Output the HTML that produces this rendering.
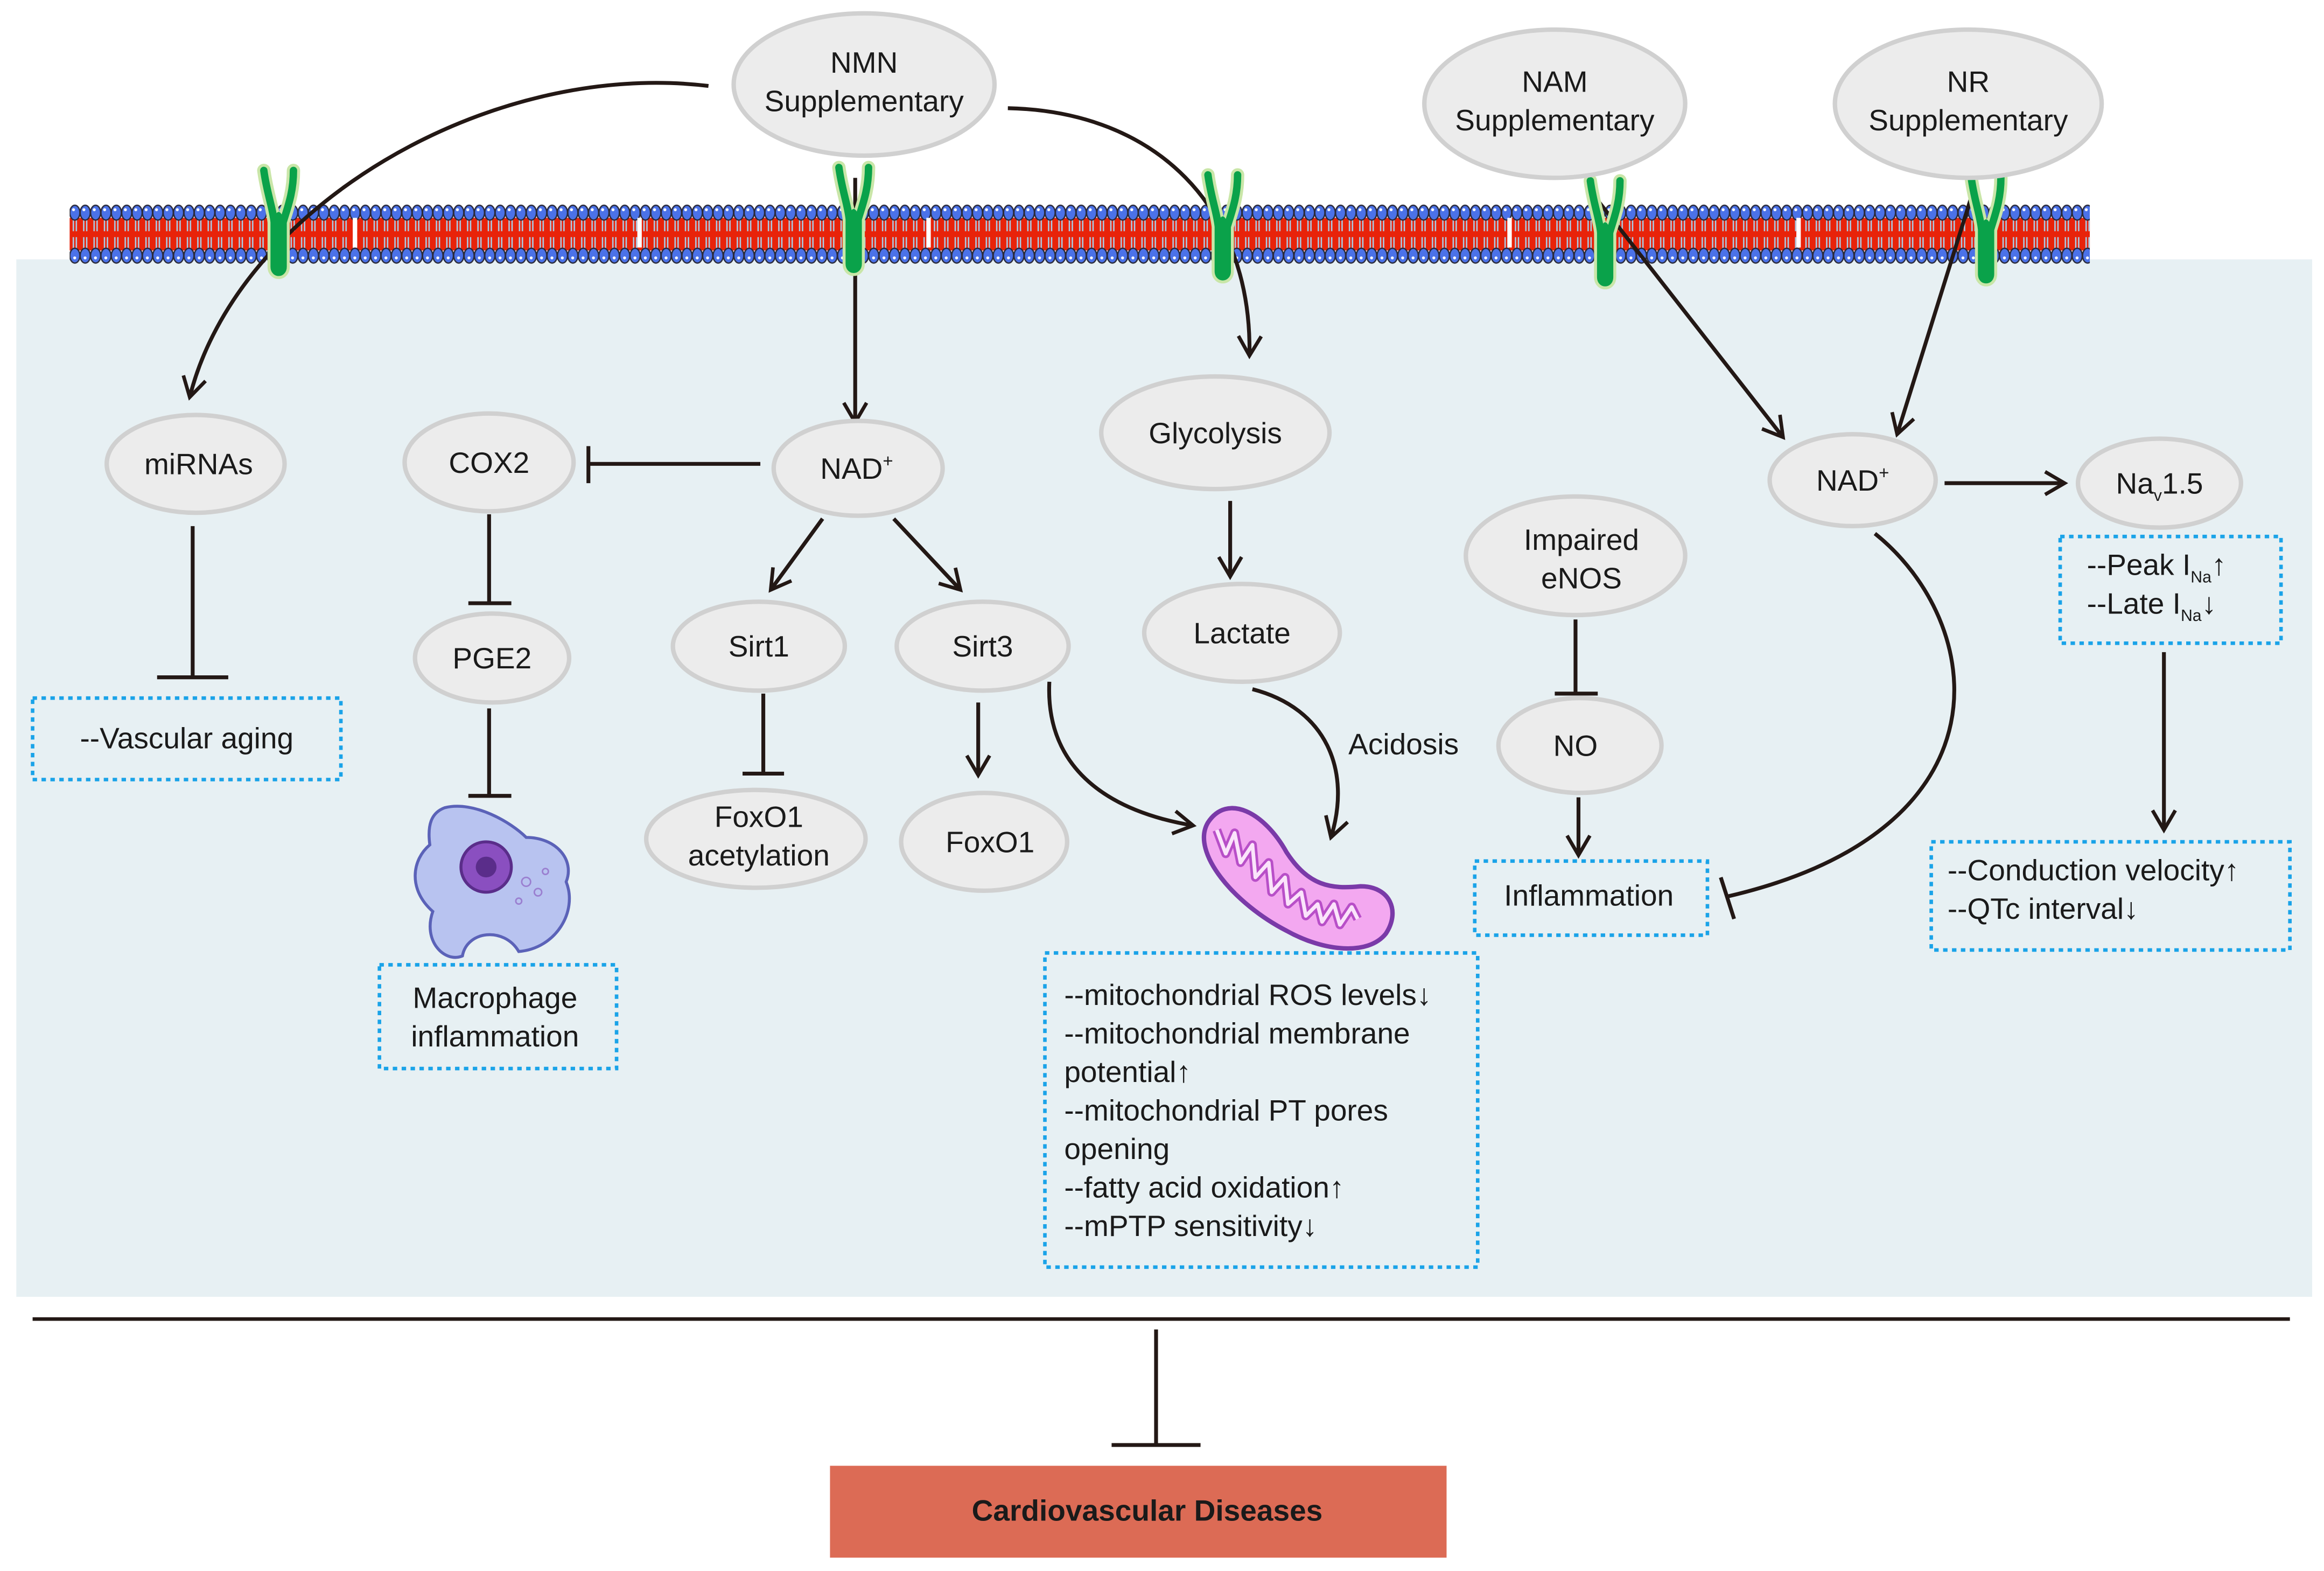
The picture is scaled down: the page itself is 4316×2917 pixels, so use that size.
<!DOCTYPE html>
<html><head><meta charset="utf-8"><style>
html,body{margin:0;padding:0;background:#fff}
svg{display:block}
text{font-family:"Liberation Sans",Arial,sans-serif;fill:#1a1a1a}
</style></head><body>
<svg width="4316" height="2917" viewBox="0 0 1568 1060" preserveAspectRatio="none" xmlns="http://www.w3.org/2000/svg">
<defs>
<marker id="ar" viewBox="0 0 20 20" refX="17" refY="10" markerWidth="22" markerHeight="22" markerUnits="userSpaceOnUse" orient="auto">
<polyline points="5,3 17,10 5,17" fill="none" stroke="#231815" stroke-width="2.2"/>
</marker>
<pattern id="lip" x="47" y="138" width="7" height="40" patternUnits="userSpaceOnUse">
<rect x="0" y="9" width="7" height="22" fill="#e8230a"/>
<path d="M2.5 10v8M4.5 10v8M2.5 22v8M4.5 22v8" stroke="#a8d2ee" stroke-width="0.9"/>
<ellipse cx="3.5" cy="5.5" rx="3.4" ry="5" fill="#4b72e8" stroke="#2a2a3a" stroke-width="0.9"/>
<ellipse cx="3.5" cy="34.5" rx="3.4" ry="5" fill="#4b72e8" stroke="#2a2a3a" stroke-width="0.9"/>
<circle cx="2.6" cy="3.5" r="1" fill="#fff"/>
<circle cx="3.4" cy="36" r="1" fill="#fff"/>
</pattern>
<g id="rec">
<path d="M-10,-40 C-8,-25 -4,-15 -3,-5 L-3,25 C-3,30 3,30 3,25 L3,-5 C6,-15 10,-25 10,-40" fill="none" stroke="#c9e6a8" stroke-width="9" stroke-linecap="round"/>
<path d="M-10,-40 C-8,-25 -4,-15 -3,-5 L-3,25 C-3,30 3,30 3,25 L3,-5 C6,-15 10,-25 10,-40" fill="none" stroke="#0aa24a" stroke-width="5" stroke-linecap="round"/>
<ellipse cx="0" cy="8" rx="5" ry="20" fill="#0aa24a"/>
</g>
</defs>
<rect x="11" y="175" width="1549" height="700" fill="#e7f0f3"/>
<rect x="47" y="138" width="1363" height="40" fill="url(#lip)"/>
<g fill="#fff"><rect x="238" y="147" width="3" height="20"/><rect x="430" y="147" width="3" height="20"/><rect x="625" y="147" width="3" height="20"/><rect x="1017" y="147" width="3" height="20"/><rect x="1212" y="147" width="3" height="20"/></g>

<!-- connectors -->
<g fill="none" stroke="#231815" stroke-width="2.6">
<path d="M478,58 C330,40 160,140 128,268" marker-end="url(#ar)"/>
<path d="M680,73 C780,75 845,140 843,240" marker-end="url(#ar)"/>
<path d="M577,120 L577,285" marker-end="url(#ar)"/>
<path d="M513,313 L397,313 M397,301 L397,326"/>
<path d="M555,350 L520,398" marker-end="url(#ar)"/>
<path d="M603,350 L648,398" marker-end="url(#ar)"/>
<path d="M330,347 L330,407 M316,407 L345,407"/>
<path d="M330,478 L330,537 M316,537 L345,537"/>
<path d="M130,355 L130,457 M106,457 L154,457"/>
<path d="M515,468 L515,522 M501,522 L529,522"/>
<path d="M660,474 L660,523" marker-end="url(#ar)"/>
<path d="M708,460 C705,520 750,548 805,557" marker-end="url(#ar)"/>
<path d="M830,338 L830,389" marker-end="url(#ar)"/>
<path d="M845,465 C895,478 912,520 898,565" marker-end="url(#ar)"/>
<path d="M1063,418 L1063,468 M1049,468 L1078,468"/>
<path d="M1065,538 L1065,577" marker-end="url(#ar)"/>
<path d="M1265,360 C1340,420 1360,560 1165,605 M1161,592 L1170,620"/>
<path d="M1070,125 L1203,295" marker-end="url(#ar)"/>
<path d="M1330,133 L1280,293" marker-end="url(#ar)"/>
<path d="M1312,326 L1393,326" marker-end="url(#ar)"/>
<path d="M1460,440 L1460,560" marker-end="url(#ar)"/>
<path d="M22,890 L1545,890" stroke-width="2.4"/>
<path d="M780,897 L780,975 M750,975 L810,975"/>
</g>

<!-- receptors -->
<use href="#rec" x="188" y="155"/>
<use href="#rec" x="576" y="153"/>
<use href="#rec" x="825" y="158"/>
<use href="#rec" x="1083" y="162"/>
<use href="#rec" x="1340" y="160"/>

<!-- nodes -->
<g fill="#ececec" stroke="#d0d0d0" stroke-width="3">
<ellipse cx="583" cy="57" rx="88" ry="48"/>
<ellipse cx="1049" cy="70" rx="88" ry="50"/>
<ellipse cx="1328" cy="70" rx="90" ry="50"/>
<ellipse cx="132" cy="313" rx="60" ry="33"/>
<ellipse cx="330" cy="312" rx="57" ry="33"/>
<ellipse cx="579" cy="316" rx="57" ry="32"/>
<ellipse cx="820" cy="292" rx="77" ry="38"/>
<ellipse cx="512" cy="436" rx="58" ry="30"/>
<ellipse cx="663" cy="436" rx="58" ry="30"/>
<ellipse cx="838" cy="427" rx="66" ry="33"/>
<ellipse cx="332" cy="444" rx="52" ry="30"/>
<ellipse cx="510" cy="566" rx="74" ry="33"/>
<ellipse cx="664" cy="568" rx="56" ry="33"/>
<ellipse cx="1063" cy="375" rx="74" ry="40"/>
<ellipse cx="1066" cy="503" rx="55" ry="32"/>
<ellipse cx="1250" cy="324" rx="56" ry="31"/>
<ellipse cx="1457" cy="326" rx="55" ry="30"/>
</g>

<!-- dotted boxes -->
<g fill="none" stroke="#1aa3e8" stroke-width="2.4" stroke-dasharray="3,3">
<rect x="22" y="471" width="208" height="55"/>
<rect x="256" y="651" width="160" height="70"/>
<rect x="705" y="643" width="292" height="212"/>
<rect x="995" y="581" width="157" height="50"/>
<rect x="1390" y="362" width="149" height="72"/>
<rect x="1303" y="568" width="242" height="73"/>
</g>

<!-- macrophage -->
<g transform="translate(330,590)">
<path d="M-30,-45 C-10,-50 15,-35 25,-25 C45,-25 58,-10 52,5 C60,25 45,50 20,52 C10,35 -15,38 -18,55 C-30,60 -45,45 -38,25 C-55,10 -52,-10 -40,-20 C-42,-35 -38,-42 -30,-45 Z" fill="#b8c3f0" stroke="#5b62b8" stroke-width="2"/>
<circle cx="-2" cy="-5" r="17" fill="#8a4fc0" stroke="#5a2d8a" stroke-width="2"/>
<circle cx="-2" cy="-5" r="7" fill="#5a2d8a"/>
<g fill="none" stroke="#9a7fd0" stroke-width="1"><circle cx="25" cy="5" r="3"/><circle cx="33" cy="12" r="2.5"/><circle cx="20" cy="18" r="2"/><circle cx="38" cy="-2" r="2"/></g>
</g>

<!-- mitochondrion -->
<g transform="translate(873,590)">
<path d="M-58,-35 C-45,-55 -20,-42 -5,-15 C10,8 25,10 45,8 C65,8 72,25 62,40 C50,55 20,52 -5,38 C-40,20 -70,-15 -58,-35 Z" fill="#f3a8f0" stroke="#7a3aa8" stroke-width="3"/>
<path d="M-52,-30 l6,16 l6,-14 l4,20 l8,-12 l2,22 l9,-10 l2,20 l9,-10 l2,18 l9,-8 l3,16 l8,-8 l3,12 l8,-12 l4,14 l8,-12 l4,8" fill="none" stroke="#b84fc8" stroke-width="6" stroke-linejoin="round"/>
<path d="M-52,-30 l6,16 l6,-14 l4,20 l8,-12 l2,22 l9,-10 l2,20 l9,-10 l2,18 l9,-8 l3,16 l8,-8 l3,12 l8,-12 l4,14 l8,-12 l4,8" fill="none" stroke="#fbe4fb" stroke-width="2.5" stroke-linejoin="round"/>
</g>

<!-- texts -->
<g font-size="20" text-anchor="middle">
<text x="583" y="49">NMN</text><text x="583" y="75">Supplementary</text>
<text x="1049" y="62">NAM</text><text x="1049" y="88">Supplementary</text>
<text x="1328" y="62">NR</text><text x="1328" y="88">Supplementary</text>
<text x="134" y="320">miRNAs</text>
<text x="330" y="319">COX2</text>
<text x="578" y="323">NAD<tspan font-size="12" dy="-8">+</tspan></text>
<text x="820" y="299">Glycolysis</text>
<text x="512" y="443">Sirt1</text>
<text x="663" y="443">Sirt3</text>
<text x="838" y="434">Lactate</text>
<text x="332" y="451">PGE2</text>
<text x="512" y="558">FoxO1</text><text x="512" y="584">acetylation</text>
<text x="668" y="575">FoxO1</text>
<text x="1067" y="371">Impaired</text><text x="1067" y="397">eNOS</text>
<text x="1063" y="510">NO</text>
<text x="1250" y="331">NAD<tspan font-size="12" dy="-8">+</tspan></text>
<text x="1457" y="333">Na<tspan font-size="11" dy="5">v</tspan><tspan dy="-5">1.5</tspan></text>
<text x="947" y="509">Acidosis</text>
<text x="126" y="505">--Vascular aging</text>
<text x="334" y="680">Macrophage</text><text x="334" y="706">inflammation</text>
<text x="1072" y="611">Inflammation</text>
</g>
<g font-size="20">
<text x="718" y="678">--mitochondrial ROS levels↓</text>
<text x="718" y="704">--mitochondrial membrane</text>
<text x="718" y="730">potential↑</text>
<text x="718" y="756">--mitochondrial PT pores</text>
<text x="718" y="782">opening</text>
<text x="718" y="808">--fatty acid oxidation↑</text>
<text x="718" y="834">--mPTP sensitivity↓</text>
<text x="1408" y="388">--Peak I<tspan font-size="11" dy="5">Na</tspan><tspan dy="-5">↑</tspan></text>
<text x="1408" y="414">--Late I<tspan font-size="11" dy="5">Na</tspan><tspan dy="-5">↓</tspan></text>
<text x="1314" y="594">--Conduction velocity↑</text>
<text x="1314" y="620">--QTc interval↓</text>
</g>
<rect x="560" y="989" width="416" height="62" fill="#dc6b55"/>
<text x="774" y="1026" font-size="20" font-weight="bold" text-anchor="middle" style="fill:#1a1a1a">Cardiovascular Diseases</text>
</svg>
</body></html>
